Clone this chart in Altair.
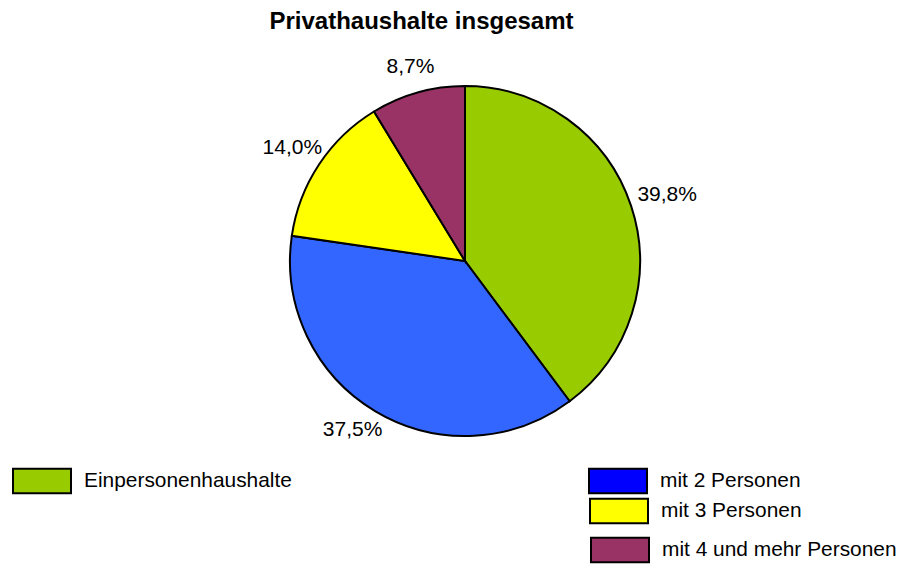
import altair as alt
import pandas as pd

categories = ["Einpersonenhaushalte", "mit 2 Personen", "mit 3 Personen", "mit 4 und mehr Personen"]
values = [39.8, 37.5, 14.0, 8.7]
labels = ["39,8%", "37,5%", "14,0%", "8,7%"]
slice_colors = ["#99CC00", "#3366FF", "#FFFF00", "#993366"]
legend_colors = ["#99CC00", "#0000FF", "#FFFF00", "#993366"]

df = pd.DataFrame({"cat": categories, "value": values, "label": labels, "order": list(range(len(categories)))})

FONT = "Liberation Sans"
CX, CY, R = 457, 213, 175

base = alt.Chart(df)

pie = base.mark_arc(stroke="black", strokeWidth=2, radius=R).encode(
    theta=alt.Theta("value:Q", stack=True),
    order=alt.Order("order:Q"),
    color=alt.Color("cat:N", scale=alt.Scale(domain=categories, range=slice_colors), legend=None),
    x=alt.value(CX), y=alt.value(CY),
)

# label placement style per slice: (radius, dx, dy)
label_style = [(213, 0, 1), (202, -9, -5), (207, 0, 1), (202, 0, 1)]

layers = [pie]
for cat, (rad, ddx, ddy) in zip(categories, label_style):
    layers.append(
        base.mark_text(radius=rad, dx=ddx, dy=ddy, font=FONT, fontSize=21, color="black",
                       align="center", baseline="middle").encode(
            theta=alt.Theta("value:Q", stack=True),
            order=alt.Order("order:Q"),
            text=alt.condition(alt.datum.cat == cat, "label:N", alt.value("")),
            x=alt.value(CX), y=alt.value(CY),
        )
    )

legend_pos = [(4, 403), (580, 403), (581, 433), (582, 472)]
swatch = "M-1,-0.42L1,-0.42L1,0.42L-1,0.42Z"

for cat, col, (lx, ly) in zip(categories, legend_colors, legend_pos):
    layers.append(
        base.transform_filter(alt.datum.cat == cat).mark_point(filled=True, opacity=0, size=1).encode(
            color=alt.Color("cat:N", scale=alt.Scale(domain=[cat], range=[col]),
                            legend=alt.Legend(orient="none", legendX=lx, legendY=ly, title=None,
                                              symbolType=swatch, symbolSize=3364,
                                              symbolStrokeColor="black", symbolStrokeWidth=2,
                                              symbolOpacity=1, labelFont=FONT, labelFontSize=20.9,
                                              labelColor="black", labelOffset=12, padding=0,
                                              labelLimit=400)),
            x=alt.value(CX), y=alt.value(CY),
        )
    )

chart = alt.layer(*layers).resolve_scale(color="independent").properties(
    width=889, height=520,
    autosize=alt.AutoSizeParams(type="none"),
    padding={"left": 0, "top": 40, "right": 0, "bottom": 0},
    title=alt.Title("Privathaushalte insgesamt", font=FONT, fontSize=24, fontWeight="bold",
                    color="black", anchor="middle", dx=-31, offset=12),
).configure_view(stroke=None)

chart.save("out.html", embed_options={"renderer": "svg", "actions": False})
